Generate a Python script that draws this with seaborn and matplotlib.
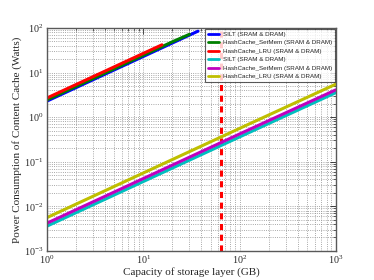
import numpy as np
import pandas as pd
import seaborn as sns
import matplotlib
matplotlib.use("Agg")
import matplotlib.pyplot as plt
from matplotlib.ticker import LogLocator

# capacity (GB) vs power (W)
silt_dram_x = [1, 2, 5, 10, 20, 37]
silt_dram_y = [2.3, 4.6, 11.5, 23, 46, 85]
setmem_dram_x = [1, 2, 5, 10, 20, 30]
setmem_dram_y = [2.45, 4.9, 12.2, 24.5, 49, 72]
lru_dram_x = [1, 2, 5, 10, 15.6]
lru_dram_y = [2.7, 5.4, 13.5, 27, 42]

low_x = [1, 10, 100, 1000]
silt_low_y = [0.0036, 0.036, 0.36, 3.55]
setmem_low_y = [0.0042, 0.042, 0.42, 4.1]
lru_low_y = [0.0056, 0.056, 0.56, 5.5]

cutoff_gb = 64

labels = ["SILT (SRAM & DRAM)", "HashCache_SetMem (SRAM & DRAM)", "HashCache_LRU (SRAM & DRAM)",
          "SILT (SRAM & DRAM)", "HashCache_SetMem (SRAM & DRAM)", "HashCache_LRU (SRAM & DRAM)"]
colors = ["#0000ff", "#008000", "#ff0000", "#00bfbf", "#bf00bf", "#bfbf00"]

series = [(silt_dram_x, silt_dram_y), (setmem_dram_x, setmem_dram_y), (lru_dram_x, lru_dram_y),
          (low_x, silt_low_y), (low_x, setmem_low_y), (low_x, lru_low_y)]

sns.set_theme(style="white")
plt.rcParams["font.family"] = ["Liberation Serif", "DejaVu Serif"]
plt.rcParams["mathtext.fontset"] = "stix"
plt.rcParams["xtick.direction"] = "in"
plt.rcParams["ytick.direction"] = "in"

fig = plt.figure(figsize=(3.74, 2.8), dpi=100)
ax = fig.add_axes([0.126, 0.104, 0.772, 0.796])

for (xs, ys), lab, col in zip(series, labels, colors):
    df = pd.DataFrame({"x": xs, "y": ys})
    sns.lineplot(data=df, x="x", y="y", ax=ax, color=col, lw=2.2, label=lab)

ax.axvline(cutoff_gb, color="#ff0000", lw=2.2, ls=(0, (2, 1.5)), zorder=1)

ax.set_xscale("log")
ax.set_yscale("log")
ax.set_xlim(1, 1000)
ax.set_ylim(1e-3, 1e2)
ax.xaxis.set_minor_locator(LogLocator(base=10, subs=np.arange(2, 10), numticks=20))
ax.yaxis.set_minor_locator(LogLocator(base=10, subs=np.arange(2, 10), numticks=20))

ax.grid(True, which="both", color="0.55", ls=":", lw=0.6)
ax.tick_params(which="both", top=True, right=True, labelsize=7.2)
ax.tick_params(axis="x", which="both", pad=2)
ax.tick_params(axis="y", which="both", pad=3)
ax.tick_params(which="major", length=4, width=0.6)
ax.tick_params(which="minor", length=2, width=0.5)
for s in ax.spines.values():
    s.set_color("0.35")
    s.set_linewidth(1.0)

ax.set_xlabel("Capacity of storage layer (GB)", fontsize=8, labelpad=0.5)
ax.set_ylabel("Power Consumption of Content Cache (Watts)", fontsize=8, labelpad=1.5)

leg = ax.legend(loc="upper right", prop={"family": "Liberation Sans", "size": 4.5},
                frameon=True, fancybox=False, borderaxespad=0.1, labelspacing=0.5,
                handlelength=1.8, handletextpad=0.7, borderpad=0.45)
leg.get_frame().set_edgecolor("0.2")
leg.get_frame().set_linewidth(0.8)
for h in leg.get_lines():
    h.set_linewidth(2.0)

fig.savefig("out.png", dpi=100)
